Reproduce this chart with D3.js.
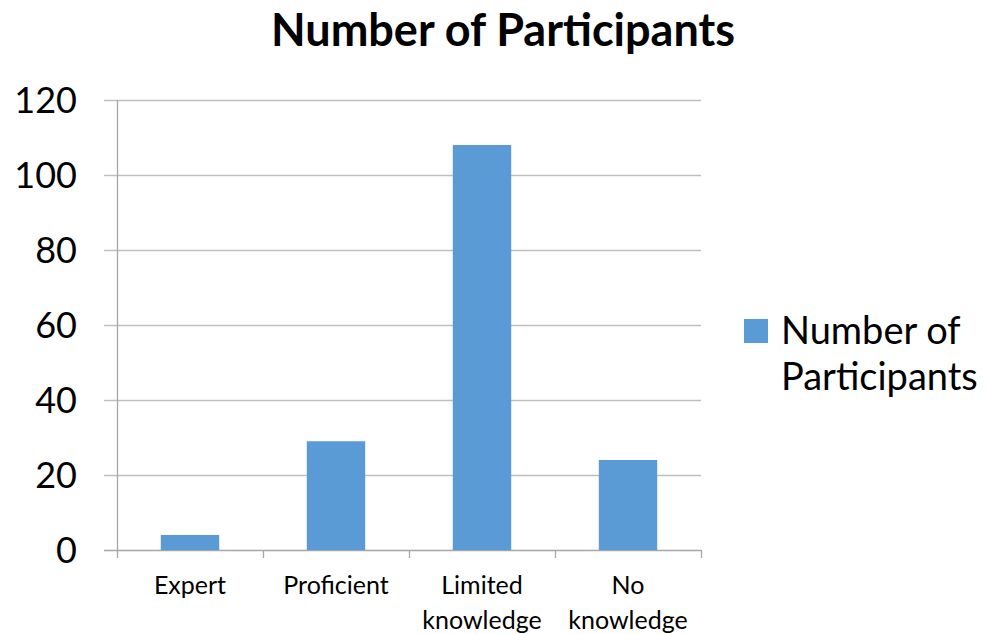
<!DOCTYPE html>
<html><head><meta charset="utf-8">
<script src="https://cdn.jsdelivr.net/npm/d3@7"></script>
<style>body{margin:0;background:#fff;}svg{display:block;font-family:Lato,"Open Sans",sans-serif;}</style>
</head><body>
<script>
const categories = [["Expert"], ["Proficient"], ["Limited", "knowledge"], ["No", "knowledge"]];
const values = [4, 29, 108, 24];
const yTicks = [0, 20, 40, 60, 80, 100, 120];
const title = "Number of Participants";
const seriesName = ["Number of", "Participants"];

const W = 987, H = 634;
const svg = d3.select("body").append("svg").attr("width", W).attr("height", H);
const x0 = 117, x1 = 701, yTop = 100, yBot = 550;
const x = d3.scaleBand().domain(d3.range(categories.length)).range([x0, x1]).paddingInner(0.6).paddingOuter(0.3);
const y = d3.scaleLinear().domain([0, 120]).range([yBot, yTop]);
const gridC = "#BFBFBF", axisC = "#A6A6A6", barC = "#5B9BD5";

svg.append("text").attr("x", 503).attr("y", 46).attr("text-anchor", "middle")
  .attr("font-size", 45).attr("font-weight", "bold").attr("fill", "#000").text(title);

// gridlines
svg.append("g").selectAll("line").data(yTicks).join("line")
  .attr("x1", x0 - 13).attr("x2", x1).attr("y1", d => Math.round(y(d)) + 0.5).attr("y2", d => Math.round(y(d)) + 0.5)
  .attr("stroke", d => d === 0 ? axisC : gridC).attr("stroke-width", 1.3);
// y axis line
svg.append("line").attr("x1", x0 + 0.5).attr("x2", x0 + 0.5).attr("y1", yTop).attr("y2", yBot)
  .attr("stroke", axisC).attr("stroke-width", 1.3);
// y labels
svg.append("g").selectAll("text").data(yTicks).join("text")
  .attr("x", 77).attr("y", d => y(d) + 13).attr("text-anchor", "end")
  .attr("font-size", 36).attr("fill", "#000").text(d => d);

// x ticks
const bounds = d3.range(categories.length + 1).map(i => x0 + i * (x1 - x0) / categories.length);
svg.append("g").selectAll("line").data(bounds).join("line")
  .attr("x1", d => Math.round(d) + 0.5).attr("x2", d => Math.round(d) + 0.5).attr("y1", yBot).attr("y2", yBot + 8)
  .attr("stroke", axisC).attr("stroke-width", 1.3);

// bars
svg.append("g").selectAll("rect").data(values).join("rect")
  .attr("x", (d, i) => x(i)).attr("width", x.bandwidth())
  .attr("y", d => y(d)).attr("height", d => y(0) - y(d)).attr("fill", barC);

// x labels
const xl = svg.append("g").selectAll("text").data(categories).join("text")
  .attr("text-anchor", "middle").attr("font-size", 25).attr("fill", "#000");
xl.each(function(d, i) {
  const t = d3.select(this);
  d.forEach((line, j) => {
    t.append("tspan").attr("x", x(i) + x.bandwidth() / 2).attr("y", 594 + j * 35).text(line);
  });
});

// legend
svg.append("rect").attr("x", 744).attr("y", 319).attr("width", 24).attr("height", 24).attr("fill", barC);
svg.append("text").attr("font-size", 38).attr("fill", "#000")
  .selectAll("tspan").data(seriesName).join("tspan")
  .attr("x", 781).attr("y", (d, i) => 344 + i * 46).text(d => d);
</script>
</body></html>
